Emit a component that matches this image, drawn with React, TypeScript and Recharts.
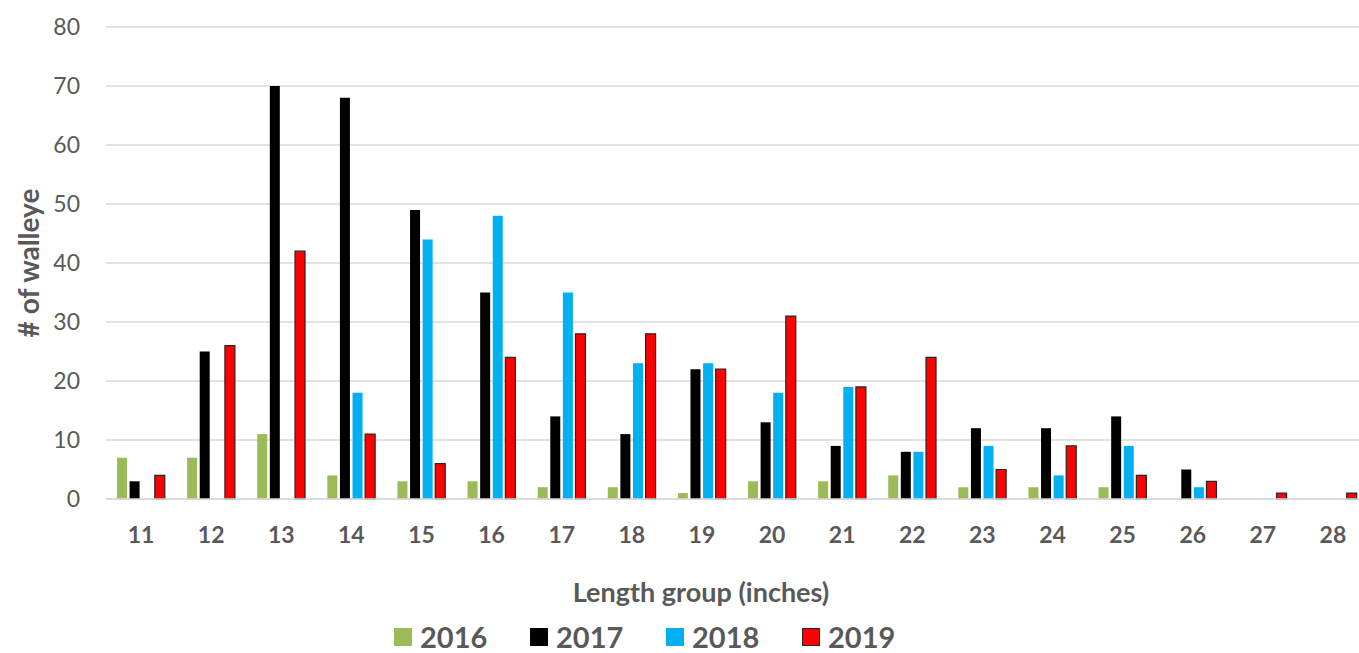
import React from 'react'
import { BarChart, Bar, XAxis, YAxis, CartesianGrid, Label } from 'recharts'

const lengthGroups = ['11', '12', '13', '14', '15', '16', '17', '18', '19', '20', '21', '22', '23', '24', '25', '26', '27', '28']
const walleye2016 = [7, 7, 11, 4, 3, 3, 2, 2, 1, 3, 3, 4, 2, 2, 2, null, null, null]
const walleye2017 = [3, 25, 70, 68, 49, 35, 14, 11, 22, 13, 9, 8, 12, 12, 14, 5, null, null]
const walleye2018 = [null, null, null, 18, 44, 48, 35, 23, 23, 18, 19, 8, 9, 4, 9, 2, null, null]
const walleye2019 = [4, 26, 42, 11, 6, 24, 28, 28, 22, 31, 19, 24, 5, 9, 4, 3, 1, 1]
const yTicks = [0, 10, 20, 30, 40, 50, 60, 70, 80]

const series = [
  { key: 'y2016', name: '2016', color: '#9BBB59', stroke: 'none' },
  { key: 'y2017', name: '2017', color: '#000000', stroke: 'none' },
  { key: 'y2018', name: '2018', color: '#00B0F0', stroke: 'none' },
  { key: 'y2019', name: '2019', color: '#FF0000', stroke: '#262626' },
]

const data = lengthGroups.map((g, i) => ({
  group: g,
  y2016: walleye2016[i],
  y2017: walleye2017[i],
  y2018: walleye2018[i],
  y2019: walleye2019[i],
}))

const FONT = 'Lato, "Open Sans", sans-serif'
const GREY = '#595959'

export default function App() {
  return (
    <div style={{ position: 'absolute', left: 0, top: 0, width: 1359, height: 653, overflow: 'hidden', background: '#fff', fontFamily: FONT }}>
      <BarChart
        width={1368}
        height={653}
        data={data}
        margin={{ top: 27, right: 0, bottom: 44, left: 0 }}
        barCategoryGap="16%"
        barGap={2.6}
        barSize={10}
      >
        <CartesianGrid vertical={false} stroke="#D9D9D9" strokeWidth={1.4} />
        <XAxis
          dataKey="group"
          height={110}
          tickLine={false}
          axisLine={{ stroke: '#D9D9D9', strokeWidth: 1.4 }}
          tickMargin={22}
          tick={{ fill: GREY, fontSize: 23, fontWeight: 700, fontFamily: FONT }}
          interval={0}
        >
          <Label
            content={(props: any) => {
              const vb = props.viewBox
              return (
                <text x={701} y={vb.y + 103} textAnchor="middle" fill={GREY} fontSize={27} fontWeight={700} fontFamily={FONT}>
                  Length group (inches)
                </text>
              )
            }}
          />
        </XAxis>
        <YAxis
          width={106}
          domain={[0, 80]}
          ticks={yTicks}
          tickLine={false}
          axisLine={false}
          tickMargin={20}
          tick={{ fill: GREY, fontSize: 23, fontFamily: FONT }}
        >
          <Label
            content={() => (
              <text
                x={28}
                y={263}
                transform="rotate(-90 28 263)"
                textAnchor="middle"
                dominantBaseline="central"
                fill={GREY}
                fontSize={28}
                fontWeight={700}
                fontFamily={FONT}
              >
                # of walleye
              </text>
            )}
          />
        </YAxis>
        {series.map((s) => (
          <Bar
            key={s.key}
            dataKey={s.key}
            name={s.name}
            fill={s.color}
            stroke={s.stroke}
            strokeWidth={s.stroke === 'none' ? 0 : 1.2}
            isAnimationActive={false}
          />
        ))}
      </BarChart>
      <div style={{ position: 'absolute', left: 394, top: 622, display: 'flex' }}>
        {series.map((s) => (
          <div key={s.key} style={{ width: 136, display: 'flex', alignItems: 'center', height: 30 }}>
            <span
              style={{
                display: 'inline-block',
                width: s.stroke === 'none' ? 18 : 16,
                height: s.stroke === 'none' ? 18 : 16,
                background: s.color,
                border: s.stroke === 'none' ? 'none' : '1px solid #262626',
                marginRight: 8,
              }}
            />
            <span style={{ color: GREY, fontSize: 29, fontWeight: 700, lineHeight: '30px' }}>{s.name}</span>
          </div>
        ))}
      </div>
    </div>
  )
}
